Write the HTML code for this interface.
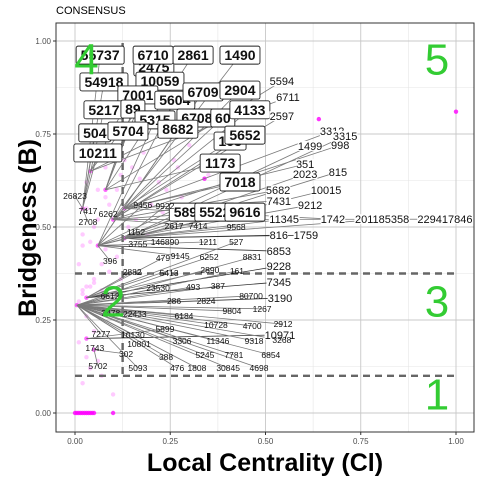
<!DOCTYPE html>
<html><head><meta charset="utf-8"><style>
body{margin:0;background:#fff;}
svg{display:block;font-family:"Liberation Sans",sans-serif;}
</style></head><body>
<svg id="chart" width="480" height="480"></svg>
<script>
const xTicks=[0,0.25,0.5,0.75,1];
const yTicks=[0,0.25,0.5,0.75,1];
const xTickLabels=["0.00","0.25","0.50","0.75","1.00"];
const yTickLabels=["0.00","0.25","0.50","0.75","1.00"];
const anchorX=[0.005,0.03,0.06,0.02,0.08,0.10,0.04,0.13,0.03,0.05,0.13];
const anchorY=[0.29,0.31,0.45,0.55,0.60,0.52,0.65,0.47,0.20,0.17,0.55];
const zeroX=[0,0.005,0.01,0.015,0.02,0.025,0.03,0.035,0.04,0.045,0.05,0.1];
const faintX=[0.01,0.02,0.04,0.05,0.07,0.09,0.11,0.02,0.03,0.06,0.08,0.12,0.15,0.18,0.22,0.26,0.3,0.14,0.2,0.24,0.04,0.02,0.06,0.1,0.03,0.05,0.08,0.02,0.04,0.35,0.28,0.16,0.01,0.03,0.07,0.02,0.03,0.05,0.01,0.04,0.06,0.09,0.11,0.17,0.19,0.23,0.27,0.13,0.03,0.07,0.02,0.05,0.08,0.1,0.12];
const faintY=[0.3,0.32,0.34,0.36,0.33,0.38,0.42,0.48,0.55,0.6,0.58,0.64,0.66,0.7,0.62,0.68,0.72,0.5,0.56,0.6,0.12,0.08,0.14,0.05,0.26,0.22,0.44,0.7,0.75,0.64,0.58,0.52,0.19,0.15,0.1,0.33,0.34,0.35,0.4,0.46,0.52,0.56,0.6,0.63,0.48,0.54,0.66,0.68,0.62,0.4,0.45,0.5,0.66,0.7,0.36];
const outX=[1.0,0.64,0.34];
const outY=[0.81,0.79,0.63];
const thresholdX=[0.125];
const thresholdY=[0.375,0.1];
const regionLabels=["4","5","2","3","1"];
const regionX=[0.03,0.95,0.1,0.95,0.95];
const regionY=[0.95,0.95,0.3,0.3,0.05];
// [text, x, y, kind, anchorIndex]
const labelRows=[
["2475",.207,.93,"box",4],["55737",.066,.962,"box",3],["6710",.205,.962,"box",6],["2861",.31,.962,"box",4],["1490",.433,.962,"box",5],
["54918",.076,.89,"box",3],["10059",.223,.892,"box",6],["7001",.165,.855,"box",4],["5604",.262,.841,"box",5],["6709",.336,.863,"box",2],["2904",.433,.868,"box",5],
["5217",.076,.815,"box",3],["89",.152,.817,"box",4],["5315",.21,.788,"box",2],["6708",.32,.793,"box",6],["60",.388,.793,"box",10],["4133",.459,.815,"box",5],
["504",.052,.753,"box",3],["5704",.139,.758,"box",4],["8682",.27,.763,"box",2],["163",.407,.731,"box",10],["5652",.446,.747,"box",5],
["10211",.06,.699,"box",3],["1173",.381,.672,"box",4],["7018",.433,.621,"box",10],["5895",.30,.54,"box",7],["5522",.367,.54,"box",5],["9616",.446,.54,"box",7],
["5594",.543,.892,"big",4],["6711",.559,.849,"big",6],["2597",.543,.798,"big",5],["3312",.675,.758,"big",10],["3315",.709,.745,"big",7],["1499",.617,.718,"big",2],["998",.696,.72,"big",5],
["351",.604,.669,"big",10],["2023",.604,.642,"big",2],["815",.69,.648,"big",7],["5682",.533,.599,"big",5],["10015",.659,.599,"big",2],["7431",.535,.57,"big",10],["9212",.617,.559,"big",7],
["11345",.549,.521,"big",7],["1742",.677,.521,"big",10],["201185358",.806,.521,"big",7],["229417846",.971,.521,"big",5],["816",.535,.478,"big",7],["1759",.606,.478,"big",7],
["6853",.535,.435,"big",2],["9228",.535,.395,"big",1],["7345",.535,.352,"big",1],["3190",.538,.309,"big",0],["10971",.538,.21,"big",8],
["26823",.0,.583,"small",3],["7417",.034,.543,"small",3],["2708",.034,.513,"small",3],["6262",.087,.535,"small",5],["9456",.178,.559,"small",2],["9922",.236,.556,"small",7],
["1152",.16,.487,"small",7],["2617",.26,.503,"small",2],["7414",.323,.503,"small",5],["9568",.423,.5,"small",7],["3755",.165,.454,"small",2],["146890",.236,.46,"small",7],
["1211",.349,.46,"small",2],["527",.423,.46,"small",1],["396",.092,.409,"small",2],["479",.231,.417,"small",1],["9145",.276,.422,"small",2],["6252",.352,.419,"small",1],["8831",.465,.419,"small",0],
["2882",.15,.379,"small",1],["5413",.247,.376,"small",0],["2890",.354,.384,"small",1],["161",.425,.382,"small",0],["23530",.218,.336,"small",0],["493",.31,.339,"small",0],["387",.375,.341,"small",0],
["6612",.092,.315,"small",0],["80700",.462,.315,"small",0],["286",.26,.301,"small",0],["2824",.344,.301,"small",0],["9804",.412,.274,"small",0],["1267",.491,.28,"small",0],
["3478",.094,.269,"small",0],["22433",.157,.266,"small",0],["6184",.286,.261,"small",0],["10728",.37,.237,"small",0],["4700",.465,.234,"small",0],["2912",.546,.239,"small",0],
["7277",.068,.212,"small",0],["10130",.152,.21,"small",0],["5899",.236,.226,"small",8],["3306",.281,.194,"small",0],["11346",.375,.194,"small",0],["9318",.47,.194,"small",0],["3268",.543,.196,"small",0],
["10801",.168,.185,"small",0],["1743",.052,.175,"small",9],["302",.134,.159,"small",9],["5245",.341,.156,"small",0],["7781",.417,.156,"small",0],["6854",.514,.156,"small",0],["388",.239,.151,"small",0],
["5702",.06,.126,"small",9],["5093",.165,.121,"small",0],["476",.268,.121,"small",0],["1808",.32,.121,"small",0],["30845",.402,.121,"small",0],["4698",.483,.121,"small",0]
];
const NS="http://www.w3.org/2000/svg";
const svg=document.getElementById("chart");
const L=56,R=474,T=23,B=432;
const X=v=>75+381*v, Y=v=>413-372*v;
function mk(tag,attrs,parent){const e=document.createElementNS(NS,tag);for(const k in attrs)e.setAttribute(k,attrs[k]);(parent||svg).appendChild(e);return e;}
const panel=mk("rect",{x:L,y:T,width:R-L,height:B-T,fill:"#fff"});


const grid=mk("g",{});


for(let i=0;i<xTicks.length-1;i++){const m=(xTicks[i]+xTicks[i+1])/2;mk("line",{x1:X(m),x2:X(m),y1:T,y2:B,stroke:"#e6e6e6","stroke-width":0.6},grid);}
for(let i=0;i<yTicks.length-1;i++){const m=(yTicks[i]+yTicks[i+1])/2;mk("line",{y1:Y(m),y2:Y(m),x1:L,x2:R,stroke:"#e6e6e6","stroke-width":0.6},grid);}
xTicks.forEach(v=>mk("line",{x1:X(v),x2:X(v),y1:T,y2:B,stroke:"#c8c8c8","stroke-width":0.9},grid));
yTicks.forEach(v=>mk("line",{y1:Y(v),y2:Y(v),x1:L,x2:R,stroke:"#c8c8c8","stroke-width":0.9},grid));
const pts=mk("g",{});


faintX.forEach((v,i)=>mk("circle",{cx:X(v),cy:Y(faintY[i]),r:2.2,fill:"#ff66ff","fill-opacity":0.35},pts));
zeroX.forEach(v=>mk("circle",{cx:X(v),cy:Y(0),r:2.2,fill:"#ff00ff","fill-opacity":0.8},pts));
outX.forEach((v,i)=>mk("circle",{cx:X(v),cy:Y(outY[i]),r:2.2,fill:"#ff00ff","fill-opacity":0.8},pts));
anchorX.forEach((v,i)=>mk("circle",{cx:X(v),cy:Y(anchorY[i]),r:2.2,fill:"#ff00ff","fill-opacity":0.6},pts));
thresholdX.forEach(v=>{const l=mk("line",{x1:X(v),x2:X(v),y1:T+20,y2:Y(0.1),stroke:"#666","stroke-width":2.4,"stroke-dasharray":"7,5"});});
thresholdY.forEach(v=>{const l=mk("line",{x1:X(0),x2:X(1),y1:Y(v),y2:Y(v),stroke:"#666","stroke-width":2.4,"stroke-dasharray":"7,5"});});
const seg=mk("g",{});


labelRows.forEach(r=>{const a=r[4];mk("line",{x1:X(anchorX[a]),y1:Y(anchorY[a]),x2:X(r[1]),y2:Y(r[2]),stroke:r[3]==="big"&&r[2]<0.5?"#333":"#7a7a7a","stroke-width":0.8},seg);});
const lg=mk("g",{});


labelRows.forEach(r=>{
  const x=X(r[1]),y=Y(r[2]);
  if(r[3]==="box"){
    const w=r[0].length*8+8;
    const b=mk("rect",{x:x-w/2,y:y-9,width:w,height:18,rx:2,fill:"#fff",stroke:"#222","stroke-width":0.9},lg);
    
    
    const t=mk("text",{x:x,y:y+5,"text-anchor":"middle","font-size":14,"font-weight":"bold",fill:"#111"},lg);t.textContent=r[0];
    
    
  }else{
    const fs=r[3]==="big"?11:8.5;
    mk("rect",{x:x-r[0].length*fs*0.28,y:y-fs*0.45,width:r[0].length*fs*0.56,height:fs*0.9,fill:"#fff","fill-opacity":r[3]==="big"?1:0},lg);
    const t=mk("text",{x:x,y:y+fs*0.36,"text-anchor":"middle","font-size":fs,fill:"#111"},lg);t.textContent=r[0];
    
    
  }
});
regionLabels.forEach((s,i)=>{const t=mk("text",{x:X(regionX[i]),y:Y(regionY[i])+15,"text-anchor":"middle","font-size":44,fill:"#33cc33"});t.textContent=s;

});
const bd=mk("rect",{x:L,y:T,width:R-L,height:B-T,fill:"none",stroke:"#333","stroke-width":1});


xTicks.forEach((v,i)=>{mk("line",{x1:X(v),x2:X(v),y1:B,y2:B+3,stroke:"#333"});const t=mk("text",{x:X(v),y:B+12,"text-anchor":"middle","font-size":8,fill:"#4d4d4d"});t.textContent=xTickLabels[i];

});
yTicks.forEach((v,i)=>{mk("line",{x1:L-3,x2:L,y1:Y(v),y2:Y(v),stroke:"#333"});const t=mk("text",{x:L-5,y:Y(v)+3,"text-anchor":"end","font-size":8,fill:"#4d4d4d"});t.textContent=yTickLabels[i];

});
const xt=mk("text",{x:265,y:471,"text-anchor":"middle","font-size":25,"font-weight":"bold",fill:"#000"});xt.textContent="Local Centrality (Cl)";


const yt=mk("text",{x:0,y:0,"text-anchor":"middle","font-size":25,"font-weight":"bold",fill:"#000",transform:"translate(36,228) rotate(-90)"});yt.textContent="Bridgeness (B)";


const tt=mk("text",{x:56,y:14,"font-size":11,fill:"#000"});tt.textContent="CONSENSUS";


</script>
</body></html>
